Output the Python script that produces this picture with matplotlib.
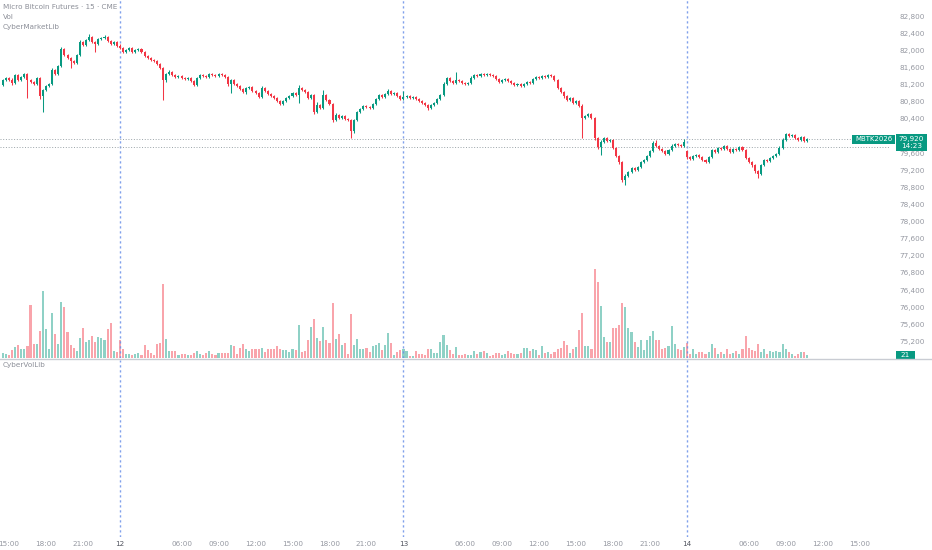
import matplotlib
matplotlib.use("Agg")
import matplotlib.pyplot as plt
import numpy as np
import pandas as pd
from matplotlib.patches import Rectangle
from matplotlib.lines import Line2D
from matplotlib.transforms import Affine2D

plt.rcParams['font.family'] = ['DejaVu Sans']

# ---------------- data ----------------
title_lines = ["Micro Bitcoin Futures · 15 · CME", "Vol", "CyberMarketLib"]
lower_title = "CyberVolLib"
symbol_label = "MBTK2026"
countdown = "14:23"
settle_price = 79740

first_open = 81190
gap_opens = {222: 79650}

closes = [
    81305, 81355, 81305, 81235, 81425, 81305, 81375, 81445, 81305, 81260,
    81215, 81355, 80930, 81075, 81165, 81215, 81540, 81445, 81635, 82030,
    81890, 81820, 81750, 81705, 81890, 82195, 82125, 82240, 82310, 82195,
    82145, 82265, 82285, 82310, 82215, 82145, 82195, 82100,
    82055, 81960, 82005, 82055, 81960, 82005, 82030, 81960, 81865, 81820,
    81775, 81750, 81680, 81585, 81305, 81445, 81495, 81425, 81375, 81400,
    81355, 81330, 81355, 81285, 81190, 81355, 81425, 81400, 81375, 81445,
    81425, 81400, 81445, 81425, 81375, 81215, 81305, 81215, 81165, 81095,
    81025, 81120, 81145, 81050, 81005, 80910, 81120, 81050, 80980, 80930,
    80885, 80815, 80745, 80815, 80885, 80930, 81005, 80955, 81120, 81075,
    81025, 80885, 80955, 80560, 80720, 80650, 80955, 80840, 80745, 80370,
    80490, 80420, 80465, 80395, 80370, 80115, 80370, 80560, 80630, 80700,
    80675, 80650, 80745, 80860, 80955, 80910, 80980, 81050, 80980, 81005,
    80930, 80860,
    80910, 80930, 80885, 80910, 80860, 80815, 80770, 80720, 80650, 80720,
    80770, 80860, 80955, 81215, 81355, 81285, 81235, 81305, 81285, 81235,
    81215, 81235, 81355, 81425, 81400, 81445, 81425, 81445, 81425, 81400,
    81330, 81260, 81305, 81330, 81285, 81235, 81190, 81215, 81165, 81215,
    81260, 81235, 81330, 81375, 81355, 81400, 81375, 81425, 81400, 81305,
    81120, 81025, 80930, 80840, 80885, 80770, 80815, 80700, 80420, 80465,
    80510, 80420, 79950, 79740, 79860, 79950, 79880, 79905, 79720, 79530,
    79390, 78970, 79065, 79155, 79250, 79205, 79275, 79390, 79435, 79530,
    79650, 79835, 79765, 79695, 79650, 79580, 79670, 79765, 79810, 79790,
    79765, 79860,
    79505, 79460, 79530, 79555, 79505, 79435, 79390, 79505, 79670, 79625,
    79720, 79695, 79765, 79695, 79625, 79695, 79670, 79740, 79670, 79485,
    79390, 79320, 79180, 79110, 79320, 79435, 79415, 79485, 79530, 79580,
    79720, 79905, 80045, 80000, 80020, 79950, 79905, 79975, 79880, 79920,
]

wick_hi = [
    25, 20, 30, 40, 30, 25, 20, 35, 25, 30,
    20, 30, 25, 30, 20, 25, 35, 30, 25, 40,
    30, 25, 20, 25, 30, 40, 25, 30, 70, 25,
    20, 30, 35, 40, 25, 20, 30, 25, 45, 20,
    25, 30, 20, 25, 30, 20, 25, 20, 25, 20,
    25, 20, 30, 25, 35, 20, 25, 30, 20, 25,
    30, 20, 25, 30, 25, 20, 25, 30, 20, 25,
    30, 20, 25, 20, 30, 25, 20, 25, 20, 30,
    25, 20, 25, 20, 40, 25, 20, 25, 20, 25,
    20, 30, 25, 30, 25, 20, 70, 25, 20, 25,
    35, 20, 70, 25, 115, 20, 25, 20, 40, 25,
    30, 20, 25, 20, 35, 30, 25, 30, 20, 25,
    25, 30, 25, 20, 30, 35, 20, 25, 20, 25,
    140, 30, 25, 30, 20, 25, 20, 25, 20, 30,
    25, 30, 35, 40, 30, 25, 20, 185, 25, 20,
    25, 30, 35, 30, 25, 30, 25, 30, 25, 20,
    20, 25, 30, 25, 20, 25, 20, 30, 20, 30,
    25, 20, 30, 35, 25, 30, 25, 30, 25, 20,
    25, 20, 25, 20, 30, 20, 30, 25, 40, 30,
    25, 20, 30, 25, 45, 30, 25, 30, 20, 25,
    20, 25, 35, 30, 30, 25, 30, 35, 30, 25,
    30, 35, 70, 25, 20, 25, 30, 35, 25, 20,
    25, 70, 30, 25, 30, 25, 20, 25, 20, 30,
    35, 25, 30, 25, 30, 20, 25, 30, 25, 30,
    25, 20, 25, 20, 25, 30, 35, 30, 25, 30,
    25, 30, 35, 40, 30, 25, 30, 25, 20, 30,
    25, 30,
]

wick_lo = [
    30, 25, 20, 35, 25, 30, 25, 20, 420, 30,
    25, 30, 60, 375, 25, 30, 20, 25, 30, 25,
    30, 25, 165, 25, 30, 20, 25, 30, 25, 20,
    190, 25, 20, 30, 25, 30, 20, 25, 30, 25,
    20, 25, 30, 20, 25, 30, 25, 20, 25, 30,
    25, 30, 470, 35, 25, 30, 20, 25, 30, 25,
    20, 25, 35, 30, 25, 20, 25, 30, 25, 20,
    25, 30, 20, 40, 210, 25, 30, 20, 25, 35,
    25, 30, 20, 35, 30, 25, 20, 25, 30, 20,
    30, 25, 20, 25, 30, 25, 190, 20, 25, 30,
    25, 40, 30, 25, 30, 20, 25, 45, 30, 25,
    20, 25, 30, 165, 40, 25, 20, 30, 25, 20,
    30, 25, 20, 25, 30, 20, 25, 30, 25, 30,
    25, 20, 30, 25, 20, 25, 30, 25, 35, 25,
    20, 30, 25, 30, 25, 20, 25, 30, 25, 30,
    20, 25, 30, 25, 20, 30, 25, 20, 25, 30,
    25, 30, 20, 25, 30, 25, 20, 30, 25, 20,
    25, 30, 20, 25, 30, 20, 25, 30, 20, 25,
    30, 25, 35, 30, 25, 30, 25, 35, 470, 30,
    25, 30, 40, 45, 190, 30, 25, 30, 35, 30,
    35, 40, 115, 30, 25, 30, 25, 30, 25, 20,
    25, 30, 25, 30, 25, 20, 30, 25, 20, 25,
    30, 25, 35, 30, 25, 30, 20, 25, 30, 25,
    20, 25, 30, 25, 20, 30, 25, 20, 25, 30,
    25, 35, 30, 40, 35, 95, 30, 25, 20, 25,
    30, 25, 20, 30, 25, 20, 30, 25, 30, 25,
    20, 25,
]

volumes = [
    33, 28, 21, 56, 77, 91, 63, 63, 84, 371,
    98, 98, 189, 469, 203, 63, 315, 168, 98, 392,
    357, 182, 91, 70, 49, 140, 210, 112, 126, 154,
    112, 147, 140, 126, 203, 245, 49, 42,
    126, 63, 28, 28, 21, 28, 35, 21, 91, 56,
    35, 21, 98, 105, 518, 133, 49, 49, 49, 21,
    28, 28, 21, 21, 35, 49, 28, 21, 35, 49,
    28, 21, 35, 35, 35, 35, 91, 84, 28, 70,
    98, 63, 49, 63, 63, 63, 70, 42, 63, 63,
    63, 84, 63, 56, 56, 42,
    63, 56, 231, 42, 49, 126, 217, 273, 140, 119,
    217, 126, 105, 385, 133, 168, 91, 105, 28, 308,
    91, 133, 63, 63, 70, 42, 84, 91, 105, 56,
    91, 175, 105, 21, 42, 56, 63, 49, 14, 14,
    49, 28, 28, 21, 63, 63, 35, 35, 112, 161,
    91, 56, 28, 77, 21, 21, 28, 21, 21, 49,
    28, 42, 49, 35, 14, 21, 35, 35, 21, 28,
    49, 35, 28, 28, 35, 70, 70, 49, 63, 56,
    21, 84, 35, 42, 28, 42, 63, 70, 119, 91,
    35, 63,
    77, 196, 315, 84, 84, 63, 623, 532, 364, 147,
    112, 112, 210, 210, 231, 385, 357, 210, 182, 112,
    77, 126, 56, 126, 154, 189, 126, 126, 63, 70,
    84, 224, 98, 63, 56, 77, 105, 28, 63, 28,
    42, 42, 28, 42, 98, 70, 28, 42, 28, 63,
    28, 35, 49, 28, 63, 154, 70, 56, 49, 98,
    42, 63, 28, 49, 42, 49, 42, 98, 63, 42,
    28, 14, 28, 42, 42, 21,
]

price_ticks = [82800, 82400, 82000, 81600, 81200, 80800, 80400,
               79600, 79200, 78800, 78400, 78000, 77600, 77200,
               76800, 76400, 76000, 75600, 75200]

# 15-minute bars with the daily 00:00-01:00 maintenance break
times = pd.date_range("2026-05-11 14:30", "2026-05-14 16:00", freq="15min")
times = times[times.hour != 0]

# ---------------- derived ----------------
n = len(closes)
c = np.array(closes, float)
o = np.array([first_open] + closes[:-1], float)
for k, v in gap_opens.items():
    o[k] = v
hi = np.maximum(o, c) + np.array(wick_hi)
lo = np.minimum(o, c) - np.array(wick_lo)
x = np.arange(n)
up = c >= o
GREEN, RED = "#089981", "#F23645"
ccol = np.where(up, GREEN, RED)
vcol = np.where(up, "#089981", "#F23645")

W, H = 932, 550
fig = plt.figure(figsize=(W / 100, H / 100), dpi=100)
fig.patch.set_facecolor("white")
pix = Affine2D().scale(1 / W, -1 / H).translate(0, 1) + fig.transFigure

PANE_R = 890
ax = fig.add_axes([0, 1 - 358 / H, PANE_R / W, 358 / H])
ax2 = fig.add_axes([0, 1 - 537 / H, PANE_R / W, 177 / H])

x_left = -0.91
x_right = x_left + PANE_R / 3.082
for a in (ax, ax2):
    a.set_xlim(x_left, x_right)
    for s in a.spines.values():
        s.set_visible(False)
    a.patch.set_visible(False)

ax.set_ylim(74812, 83175)
ax2.set_ylim(0, 1)
ax2.set_yticks([])

# volume overlay
axv = ax.twinx()
axv.set_ylim(0, 358 * 7)
axv.set_zorder(ax.get_zorder() - 1)
axv.axis("off")
axv.bar(x, volumes, width=0.68, color=vcol, alpha=0.45, linewidth=0)

# candles
ax.vlines(x, lo, hi, colors=ccol, linewidth=0.75, zorder=3)
body = np.maximum(np.abs(c - o), 12)
ax.bar(x, body, bottom=np.minimum(o, c), width=0.66, color=ccol,
       linewidth=0, zorder=4)

# session separators
starts = [i for i in range(1, len(times)) if times[i].hour == 1 and times[i].minute == 0]
for s in starts:
    for a in (ax, ax2):
        a.axvline(s, color="#6a8fe8", linestyle=(0, (1.6, 2.0)), linewidth=1.0,
                  alpha=0.85, zorder=1)

# price lines
last = closes[-1]
ax.axhline(last, color="#9aa3a8", linestyle=(0, (1, 1.8)), linewidth=0.7, zorder=2)
ax.axhline(settle_price, color="#9aa3a8", linestyle=(0, (1, 1.8)), linewidth=0.7, zorder=2)

# right price scale
ax.yaxis.tick_right()
ax.set_yticks(price_ticks)
ax.set_yticklabels([f"{v:,}" for v in price_ticks])
ax.tick_params(axis="y", length=0, pad=7, labelsize=5.2, labelcolor="#9598a1")
ax.set_xticks([])

# time axis
tick_pos, tick_lab, tick_col = [], [], []
for i, ts in enumerate(times):
    if i in starts:
        tick_pos.append(i); tick_lab.append(str(ts.day)); tick_col.append("#50535e")
    elif ts.minute == 0 and ts.hour in (6, 9, 12, 15, 18, 21):
        tick_pos.append(i); tick_lab.append(f"{ts.hour:02d}:00"); tick_col.append("#9598a1")
ax2.set_xticks(tick_pos)
ax2.set_xticklabels(tick_lab)
ax2.tick_params(axis="x", length=0, pad=3, labelsize=5.2)
for t, col in zip(ax2.get_xticklabels(), tick_col):
    t.set_color(col)

# pane separator
fig.add_artist(Line2D([0, W], [358.5, 358.5], transform=pix, color="#c9ccd3", linewidth=1))

# legends
for k, t in enumerate(title_lines):
    fig.text(3, 7 + 10 * k, t, transform=pix, fontsize=5.2, color="#8c8f98", va="center", ha="left")
fig.text(3, 365, lower_title, transform=pix, fontsize=5.2, color="#8c8f98", va="center", ha="left")

# price labels
fig.canvas.draw()
py_last = H - ax.transData.transform((0, last))[1]
fig.add_artist(Rectangle((852, py_last - 4.5), 43, 9, transform=pix, facecolor=GREEN, edgecolor="none"))
fig.text(873.5, py_last, symbol_label, transform=pix, fontsize=5, color="white", va="center", ha="center")
lab_col = GREEN if up[-1] else RED
fig.add_artist(Rectangle((896, py_last - 5.5), 31, 17, transform=pix, facecolor=lab_col, edgecolor="none"))
fig.text(911.5, py_last, f"{last:,}", transform=pix, fontsize=5.2, color="white", va="center", ha="center")
fig.text(911.5, py_last + 7, countdown, transform=pix, fontsize=5.2, color="white", va="center", ha="center")

py_vol = H - axv.transData.transform((0, volumes[-1]))[1]
vol_col = GREEN if up[-1] else RED
fig.add_artist(Rectangle((896, py_vol - 4.5), 19, 9, transform=pix, facecolor=vol_col, edgecolor="none"))
fig.text(905.5, py_vol, str(volumes[-1]), transform=pix, fontsize=5.2, color="white", va="center", ha="center")

fig.savefig("out.png", dpi=100, facecolor="white")
